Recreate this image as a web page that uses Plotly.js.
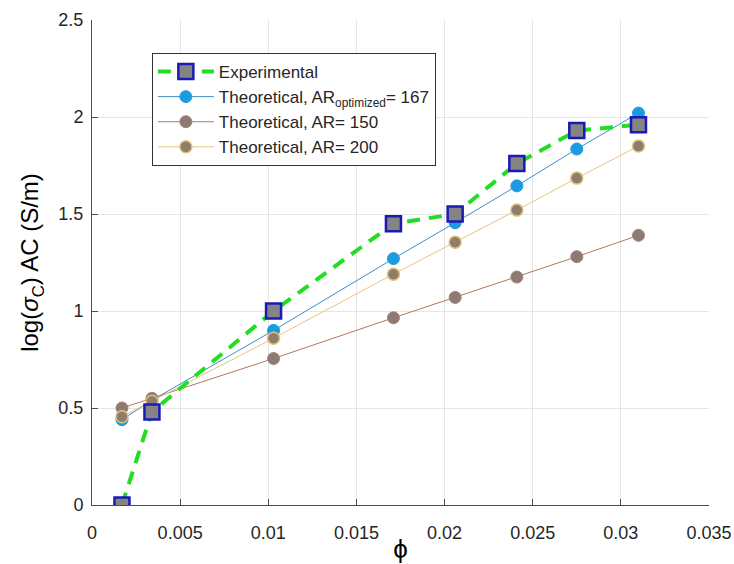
<!DOCTYPE html>
<html><head><meta charset="utf-8">
<script src="https://cdn.plot.ly/plotly-3.0.1.min.js"></script>
<style>html,body{margin:0;padding:0;background:#fff}#chart{width:734px;height:564px}</style>
</head><body><div id="chart"></div>
<script>
const phi = [0.0017, 0.0034, 0.0103, 0.0171, 0.0206, 0.0241, 0.0275, 0.031];
const experimental = [0, 0.48, 1.0, 1.45, 1.50, 1.76, 1.93, 1.96];
const theoOpt167 = [0.44, 0.54, 0.90, 1.27, 1.455, 1.645, 1.835, 2.02];
const theoAR150 = [0.50, 0.55, 0.755, 0.965, 1.07, 1.175, 1.28, 1.39];
const theoAR200 = [0.455, 0.535, 0.86, 1.19, 1.355, 1.52, 1.685, 1.85];
const xTicks = [0, 0.005, 0.01, 0.015, 0.02, 0.025, 0.03, 0.035];
const xTickText = ['0', '0.005', '0.01', '0.015', '0.02', '0.025', '0.03', '0.035'];
const yTicks = [0, 0.5, 1, 1.5, 2, 2.5];
const yTickText = ['0', '0.5', '1', '1.5', '2', '2.5'];

const font = 'Liberation Sans, Arial, sans-serif';
const traces = [
  {x: phi, y: theoOpt167, name: 'Theoretical, AR<sub>optimized</sub>= 167', mode: 'lines+markers', legendrank: 2,
   line: {color: '#3a8fc4', width: 1}, marker: {symbol: 'circle', size: 12, color: '#1e9be0', line: {color: '#1e9be0', width: 1}}},
  {x: phi, y: theoAR150, name: 'Theoretical, AR= 150', mode: 'lines+markers', legendrank: 3,
   line: {color: '#b8765a', width: 1}, marker: {symbol: 'circle', size: 12, color: '#8c7b74', line: {color: '#a98070', width: 1}}},
  {x: phi, y: theoAR200, name: 'Theoretical, AR= 200', mode: 'lines+markers', legendrank: 4,
   line: {color: '#e9c57a', width: 1}, marker: {symbol: 'circle', size: 12, color: '#8c7d6c', line: {color: '#e0c07a', width: 1.5}}},
  {x: phi, y: experimental, name: 'Experimental', mode: 'lines+markers', legendrank: 1,
   line: {color: '#22dd22', width: 4, dash: '13px,9px'}, marker: {symbol: 'square', size: 15, color: '#848484', line: {color: '#1a1ab8', width: 2.5}}}
];

const layout = {
  width: 734, height: 564,
  margin: {l: 92, r: 25, t: 20, b: 59},
  paper_bgcolor: '#fff', plot_bgcolor: '#fff',
  font: {family: font, color: '#262626', size: 18},
  showlegend: true,
  legend: {x: 0.097, y: 0.932, xanchor: 'left', yanchor: 'top', bgcolor: '#fff', bordercolor: '#333', borderwidth: 1,
    font: {family: font, size: 17, color: '#262626'}, tracegroupgap: 0, itemwidth: 56},
  xaxis: {range: [0, 0.035], tickvals: xTicks, ticktext: xTickText, showgrid: true, gridcolor: '#e6e6e6', gridwidth: 1,
    zeroline: false, showline: true, linecolor: '#4d4d4d', linewidth: 1, ticks: 'inside', ticklen: 6, tickcolor: '#4d4d4d',
    ticklabelstandoff: 11,
    tickfont: {size: 18, family: font, color: '#262626'},
    title: {text: 'ϕ', font: {size: 26, family: font, color: '#000'}, standoff: 0}, automargin: false},
  yaxis: {range: [0, 2.5], tickvals: yTicks, ticktext: yTickText, showgrid: true, gridcolor: '#e6e6e6', gridwidth: 1,
    zeroline: false, showline: true, linecolor: '#4d4d4d', linewidth: 1, ticks: 'inside', ticklen: 6, tickcolor: '#4d4d4d',
    ticklabelstandoff: 4,
    tickfont: {size: 18, family: font, color: '#262626'},
    title: {text: 'log(<i>σ</i><sub>C</sub>) AC (S/m)', font: {size: 24, family: font, color: '#000'}, standoff: 12}, automargin: false}
};
Plotly.newPlot('chart', traces, layout, {displayModeBar: false, staticPlot: true});
</script></body></html>
